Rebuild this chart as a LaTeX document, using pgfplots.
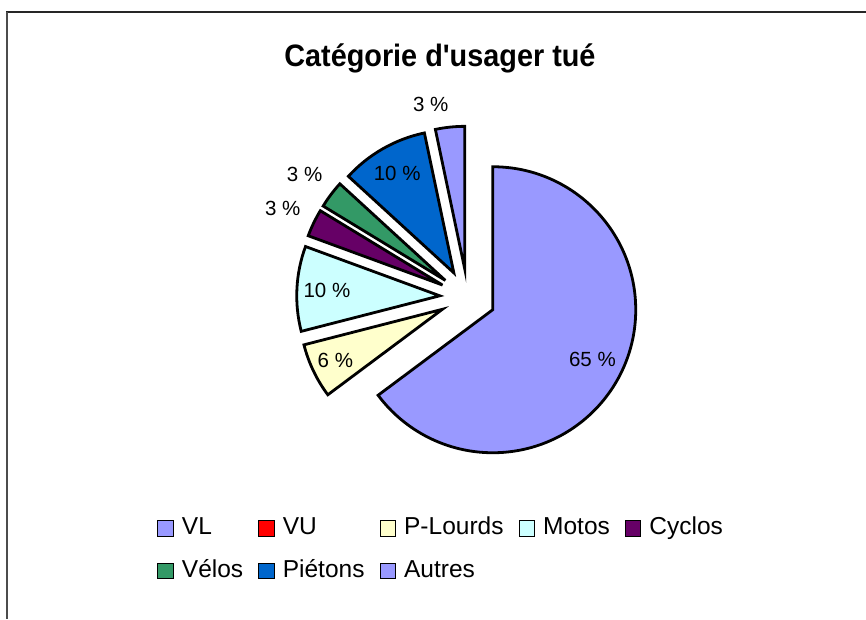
\documentclass[border=0pt]{standalone}
\usepackage{fontspec}
\setmainfont{Liberation Sans}[Ligatures=TeXOff]
\newfontfamily\titlefont{Liberation Sans}[Ligatures=TeXOff, FakeStretch=0.93]
\usepackage{pgfplots}
\usepackage{pgfplotstable}
\pgfplotsset{compat=1.18}
\definecolor{cVL}{HTML}{9999FF}
\definecolor{cVU}{HTML}{FF0000}
\definecolor{cPL}{HTML}{FFFFCC}
\definecolor{cMo}{HTML}{CCFFFF}
\definecolor{cCy}{HTML}{660066}
\definecolor{cVe}{HTML}{339966}
\definecolor{cPi}{HTML}{0066CC}
\definecolor{cAu}{HTML}{9999FF}

% value = share in percent; lbl = printed label; f = label distance (x radius); off = label angle shift
\pgfplotstableread{
name     value col lbl f    off
VL       64.8  cVL 65  0.78 0
VU       0     cVU 0   0.80 0
P-Lourds 6.2   cPL 6   0.83 0
Motos    9.6   cMo 10  0.79 0
Cyclos   3.1   cCy 3   1.24 0
Vélos    3.1   cVe 3   1.23 0
Piétons  9.9   cPi 10  0.80 0
Autres   3.3   cAu 3   1.18 5.7
}\piedata

\def\cx{467.7}
\def\cy{321.8}
\def\R{143}
\def\D{28}
\newcommand\pd[2]{\csname p#1#2\endcsname}
\newcommand\lblfont{\fontsize{20.5}{24}\selectfont}

\begin{document}
\begin{tikzpicture}
\gdef\cum{0}
\pgfplotsforeachungrouped \idx in {0,...,7}{%
  \pgfplotstablegetelem{\idx}{value}\of\piedata \let\sv\pgfplotsretval
  \pgfplotstablegetelem{\idx}{f}\of\piedata \let\sf\pgfplotsretval
  \pgfplotstablegetelem{\idx}{off}\of\piedata \let\so\pgfplotsretval
  \pgfplotstablegetelem{\idx}{col}\of\piedata \let\sc\pgfplotsretval
  \pgfplotstablegetelem{\idx}{lbl}\of\piedata \let\sl\pgfplotsretval
  \pgfplotstablegetelem{\idx}{name}\of\piedata \let\sn\pgfplotsretval
  \pgfmathsetmacro\tA{90-3.6*\cum}%
  \pgfmathsetmacro\tB{90-3.6*(\cum+\sv)}%
  \pgfmathsetmacro\tM{(\tA+\tB)/2}%
  \pgfmathsetmacro\apx{\cx+\D*cos(\tM)}%
  \pgfmathsetmacro\apy{\cy+\D*sin(\tM)}%
  \pgfmathsetmacro\stx{\apx+\R*cos(\tA)}%
  \pgfmathsetmacro\sty{\apy+\R*sin(\tA)}%
  \pgfmathsetmacro\lbx{\apx+\R*\sf*cos(\tM+\so)}%
  \pgfmathsetmacro\lby{\apy+\R*\sf*sin(\tM+\so)}%
  \expandafter\xdef\csname pV\idx\endcsname{\sv}%
  \expandafter\xdef\csname pA\idx\endcsname{\tA}%
  \expandafter\xdef\csname pB\idx\endcsname{\tB}%
  \expandafter\xdef\csname pX\idx\endcsname{\apx}%
  \expandafter\xdef\csname pY\idx\endcsname{\apy}%
  \expandafter\xdef\csname pSX\idx\endcsname{\stx}%
  \expandafter\xdef\csname pSY\idx\endcsname{\sty}%
  \expandafter\xdef\csname pLX\idx\endcsname{\lbx}%
  \expandafter\xdef\csname pLY\idx\endcsname{\lby}%
  \expandafter\xdef\csname pL\idx\endcsname{\sl}%
  \expandafter\xdef\csname pN\idx\endcsname{\sn}%
  \xglobal\colorlet{slc\idx}{\sc}%
  \pgfmathsetmacro\newcum{\cum+\sv}%
  \xdef\cum{\newcum}%
}
\begin{axis}[
  x=1pt, y=1pt,
  xmin=0, xmax=866, ymin=0, ymax=619,
  hide axis, clip=false,
  title={Catégorie d'usager tué},
  title style={at={(0.508,0.8826)}, anchor=base,
    font=\titlefont\bfseries\fontsize{31}{36}\selectfont, inner sep=0pt},
  legend image code/.code={\draw[#1, draw=black, line width=1pt] (0pt,-7.8pt) rectangle (15.6pt,7.8pt);},
  legend columns=5,
  legend cell align=left,
  legend style={at={(0.178,0.168)}, anchor=north west, draw=none, fill=none,
    font=\fontsize{24.5}{28}\selectfont,
    nodes={inner xsep=0pt, inner ysep=0pt, text height=17.5pt, text depth=5pt},
    row sep=20pt,
    /tikz/every odd column/.append style={column sep=8pt},
    /tikz/every even column/.append style={column sep=15pt}},
]
\pgfplotsinvokeforeach{0,...,7}{%
  \addlegendimage{fill=slc#1}
  \addlegendentryexpanded{\pd{N}{#1}}
}
\pgfplotsinvokeforeach{0,...,7}{%
  \ifdim\pd{V}{#1}pt>0pt
    \filldraw[fill=slc#1, draw=black, line width=2.8pt, line join=miter]
      (axis cs:\pd{X}{#1},\pd{Y}{#1}) -- (axis cs:\pd{SX}{#1},\pd{SY}{#1})
      arc[start angle=\pd{A}{#1}, end angle=\pd{B}{#1}, radius=\R pt] -- cycle;
    \node[font=\lblfont, inner sep=0pt] at (axis cs:\pd{LX}{#1},\pd{LY}{#1}) {\pd{L}{#1} \%};
  \fi
}
\draw[line width=1.5pt, black!85] (axis cs:6,607) -- (axis cs:866,607);
\draw[line width=1.5pt, black!70] (axis cs:7,607) -- (axis cs:7,0);
\end{axis}
\pgfresetboundingbox
\useasboundingbox (current axis.south west) rectangle (current axis.north east);
\end{tikzpicture}
\end{document}
